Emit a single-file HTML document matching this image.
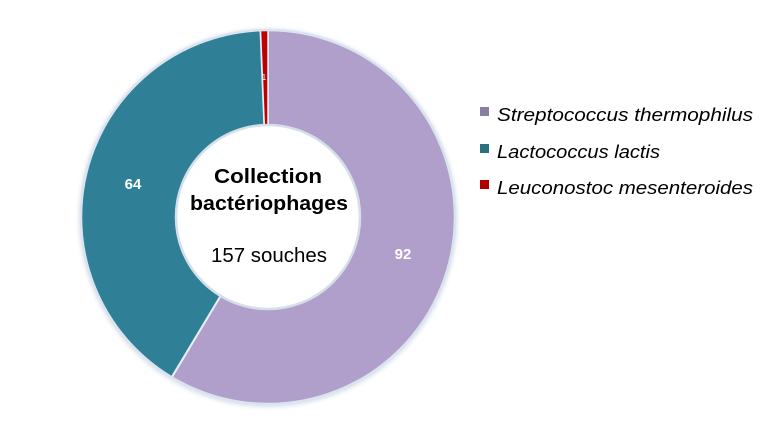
<!DOCTYPE html>
<html><head><meta charset="utf-8"><style>
html,body{margin:0;padding:0;background:#fff;width:778px;height:421px;overflow:hidden}
svg{display:block}
text{font-family:"Liberation Sans","DejaVu Sans",sans-serif}
</style></head><body>
<svg width="778" height="421" viewBox="0 0 778 421" xmlns="http://www.w3.org/2000/svg">
<defs>
<filter id="sh" x="-10%" y="-10%" width="120%" height="120%"><feGaussianBlur stdDeviation="2"/></filter>
</defs>
<circle cx="268" cy="218" r="189" fill="#d7e0ea" filter="url(#sh)"/>
<path d="M268,30 A187,187 0 1 1 171.7,377.3 L220.6,295.9 A92,92 0 1 0 268,125 Z" fill="#b09fca" stroke="#e8eef5" stroke-width="2"/>
<path d="M171.7,377.3 A187,187 0 0 1 260.5,30.1 L264.3,125.1 A92,92 0 0 0 220.6,295.9 Z" fill="#2f7f97" stroke="#e8eef5" stroke-width="2"/>
<path d="M260.5,30.1 A187,187 0 0 1 268,30 L268,125 A92,92 0 0 0 264.3,125.1 Z" fill="#c00000" stroke="#e8eef5" stroke-width="1.5"/>
<circle cx="268" cy="217" r="187" fill="none" stroke="#dbe4ee" stroke-width="2.5"/>
<circle cx="268" cy="217" r="92" fill="#fff" stroke="#d5dfea" stroke-width="2.5"/>
<text x="264" y="80" font-size="8" fill="#fff" text-anchor="middle">1</text>
<text x="133" y="189" font-size="15" font-weight="bold" fill="#fff" text-anchor="middle">64</text>
<text x="403" y="259" font-size="15" font-weight="bold" fill="#fff" text-anchor="middle">92</text>
<text x="268" y="183" font-size="20" font-weight="bold" fill="#000" text-anchor="middle" textLength="108" lengthAdjust="spacingAndGlyphs">Collection</text>
<text x="269" y="210" font-size="20" font-weight="bold" fill="#000" text-anchor="middle" textLength="158" lengthAdjust="spacingAndGlyphs">bactériophages</text>
<text x="269" y="262" font-size="20" fill="#000" text-anchor="middle" textLength="116" lengthAdjust="spacingAndGlyphs">157 souches</text>
<rect x="480" y="107" width="9" height="9" fill="#8a7fa0"/>
<rect x="480" y="144" width="9" height="9" fill="#2c6f80"/>
<rect x="480" y="180" width="9" height="9" fill="#b00000"/>
<text x="497" y="121" font-size="18" font-style="italic" fill="#000" textLength="256" lengthAdjust="spacingAndGlyphs">Streptococcus thermophilus</text>
<text x="497" y="158" font-size="18" font-style="italic" fill="#000" textLength="163" lengthAdjust="spacingAndGlyphs">Lactococcus lactis</text>
<text x="497" y="194" font-size="18" font-style="italic" fill="#000" textLength="256" lengthAdjust="spacingAndGlyphs">Leuconostoc mesenteroides</text>
</svg>
</body></html>
